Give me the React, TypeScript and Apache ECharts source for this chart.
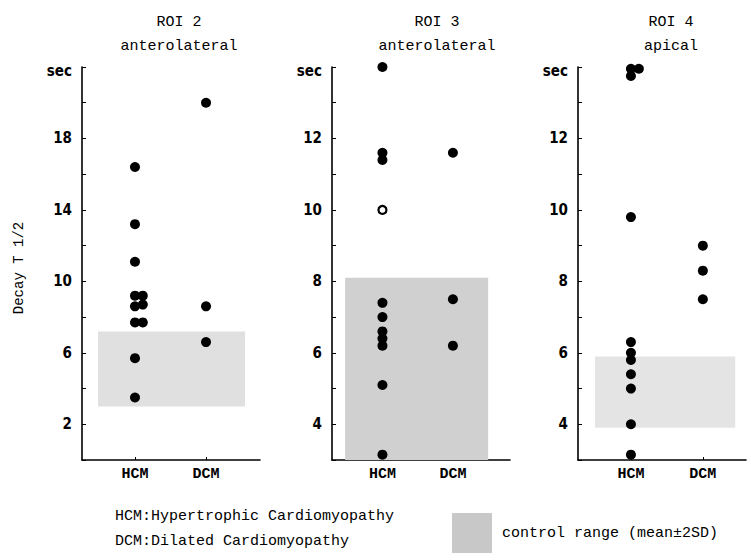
import React, { useEffect, useRef } from "react";
import * as echarts from "echarts";

const groups = ["HCM", "DCM"];

const roi2Hcm = [16.4, 13.2, 11.1, 9.2, 8.6, 7.7, 5.7, 3.5];
const roi2HcmSide = [9.2, 8.7, 7.7];
const roi2Dcm = [20.0, 8.6, 6.6];
const roi2Control = [3.0, 7.2];

const roi3Hcm = [14.0, 11.6, 11.4, 7.4, 7.0, 6.6, 6.4, 6.2, 5.1, 3.15];
const roi3HcmOpen = [10.0];
const roi3Dcm = [11.6, 7.5, 6.2];
const roi3Control = [3.0, 8.1];

const roi4Hcm = [13.95, 13.75, 9.8, 6.3, 6.0, 5.8, 5.4, 5.0, 4.0, 3.15];
const roi4HcmSide = [13.95];
const roi4Dcm = [9.0, 8.3, 7.5];
const roi4Control = [3.9, 5.9];

const roi2Ticks = [2, 6, 10, 14, 18];
const roi34Ticks = [4, 6, 8, 10, 12];

const titles = [
  ["ROI 2", "anterolateral"],
  ["ROI 3", "anterolateral"],
  ["ROI 4", "apical"],
];

const MONO = "'Liberation Mono', 'DejaVu Sans Mono', monospace";

export default function App() {
  const ref = useRef<HTMLDivElement>(null);
  useEffect(() => {
    if (!ref.current) return;
    const chart = echarts.init(ref.current, null, { renderer: "svg" });

    const grids = [
      { left: 82, top: 67, width: 178, height: 393 },
      { left: 332, top: 67, width: 178, height: 393 },
      { left: 578, top: 67, width: 168, height: 393 },
    ];
    const xRanges = [
      [0.254, 2.76],
      [0.284, 2.81],
      [0.264, 2.6],
    ];
    const yRanges = [
      [0, 22, 2, roi2Ticks],
      [3, 14, 1, roi34Ticks],
      [3, 14, 1, roi34Ticks],
    ] as const;
    const grays = ["#e0e0e0", "#d0d0d0", "#e4e4e4"];
    const controls = [roi2Control, roi3Control, roi4Control];
    const areaX = [
      [0.48, 2.55],
      [0.47, 2.5],
      [0.5, 2.45],
    ];

    const xAxis = grids.map((_, i) => ({
      type: "value",
      gridIndex: i,
      min: xRanges[i][0],
      max: xRanges[i][1],
      splitLine: { show: false },
      axisLine: { show: true, lineStyle: { color: "#000", width: 1.6 } },
      axisTick: {
        show: true,
        inside: true,
        length: 3,
        customValues: [1, 2],
        lineStyle: { color: "#000" },
      },
      axisLabel: {
        customValues: [1, 2],
        formatter: (v: number) => groups[Math.round(v) - 1] || "",
        color: "#000",
        fontFamily: MONO,
        fontSize: 15,
        fontWeight: "bold",
        margin: 7,
      },
    }));

    const yAxis = grids.map((_, i) => {
      const [mn, mx, iv, lbls] = yRanges[i];
      return {
        type: "value",
        gridIndex: i,
        min: mn,
        max: mx,
        interval: iv,
        splitLine: { show: false },
        axisLine: { show: true, lineStyle: { color: "#000", width: 1.6 } },
        axisTick: { show: true, inside: true, length: 4, lineStyle: { color: "#000" } },
        axisLabel: {
          showMaxLabel: true,
          showMinLabel: true,
          formatter: (v: number) =>
            v === mx ? "{s|sec}" : (lbls as readonly number[]).includes(v) ? String(v) : "",
          rich: {
            s: {
              fontFamily: "'DejaVu Sans Condensed', 'DejaVu Sans', sans-serif",
              fontSize: 15,
              fontWeight: "bold",
              color: "#000",
              padding: [8, 0, 0, 0],
            },
          },
          color: "#000",
          fontFamily: "'DejaVu Sans Condensed', 'DejaVu Sans', sans-serif",
          fontSize: 15,
          fontWeight: "bold",
          margin: 10,
        },
      };
    });

    const dot = (data: number[][], gi: number, extra: any = {}) => ({
      type: "scatter",
      xAxisIndex: gi,
      yAxisIndex: gi,
      data,
      symbol: "circle",
      symbolSize: 10,
      itemStyle: { color: "#000", opacity: 1 },
      z: 3,
      ...extra,
    });

    const area = (gi: number) => ({
      type: "scatter",
      xAxisIndex: gi,
      yAxisIndex: gi,
      data: [],
      z: 1,
      markArea: {
        silent: true,
        itemStyle: { color: grays[gi], opacity: 1 },
        data: [
          [
            { coord: [areaX[gi][0], controls[gi][1]] },
            { coord: [areaX[gi][1], controls[gi][0]] },
          ],
        ],
      },
    });

    const series: any[] = [
      area(0),
      area(1),
      area(2),
      dot(roi2Hcm.map((v) => [1, v]), 0),
      dot(roi2HcmSide.map((v) => [1.11, v]), 0),
      dot(roi2Dcm.map((v) => [2, v]), 0),
      dot(roi3Hcm.map((v) => [1, v]), 1),
      dot(roi3HcmOpen.map((v) => [1, v]), 1, {
        symbolSize: 8,
        itemStyle: { color: "#fff", borderColor: "#000", borderWidth: 2.2, opacity: 1 },
      }),
      dot(roi3Dcm.map((v) => [2, v]), 1),
      dot(roi4Hcm.map((v) => [1, v]), 2),
      dot(roi4HcmSide.map((v) => [1.11, v]), 2),
      dot(roi4Dcm.map((v) => [2, v]), 2),
    ];

    const titleCenters = [174, 432, 666];
    const title = titles.map((t, i) => ({
      text: t[0] + "\n" + t[1],
      left: titleCenters[i],
      top: 5,
      textAlign: "center",
      textStyle: {
        fontFamily: MONO,
        fontSize: 15,
        fontWeight: "normal",
        color: "#000",
        lineHeight: 24,
      },
    }));

    chart.setOption({
      animation: false,
      backgroundColor: "#fff",
      title,
      grid: grids.map((g) => ({ ...g, containLabel: false })),
      xAxis,
      yAxis,
      series,
      graphic: [
        {
          type: "text",
          x: 19,
          y: 268,
          rotation: Math.PI / 2,
          style: {
            text: "Decay T 1/2",
            fontFamily: MONO,
            fontSize: 14,
            fill: "#000",
            textAlign: "center",
            textVerticalAlign: "middle",
          },
        },
        {
          type: "text",
          x: 115,
          y: 516,
          style: {
            text: "HCM:Hypertrophic Cardiomyopathy",
            fontFamily: MONO,
            fontSize: 15,
            fill: "#000",
            textVerticalAlign: "middle",
          },
        },
        {
          type: "text",
          x: 115,
          y: 541,
          style: {
            text: "DCM:Dilated Cardiomyopathy",
            fontFamily: MONO,
            fontSize: 15,
            fill: "#000",
            textVerticalAlign: "middle",
          },
        },
        {
          type: "rect",
          shape: { x: 452, y: 513, width: 40, height: 40 },
          style: { fill: "#c8c8c8" },
        },
        {
          type: "text",
          x: 502,
          y: 533,
          style: {
            text: "control range (mean±2SD)",
            fontFamily: MONO,
            fontSize: 15,
            fill: "#000",
            textVerticalAlign: "middle",
          },
        },
      ],
    });
    return () => chart.dispose();
  }, []);
  return (
    <div
      ref={ref}
      style={{ position: "absolute", left: 0, top: 0, width: 749, height: 558 }}
    />
  );
}
